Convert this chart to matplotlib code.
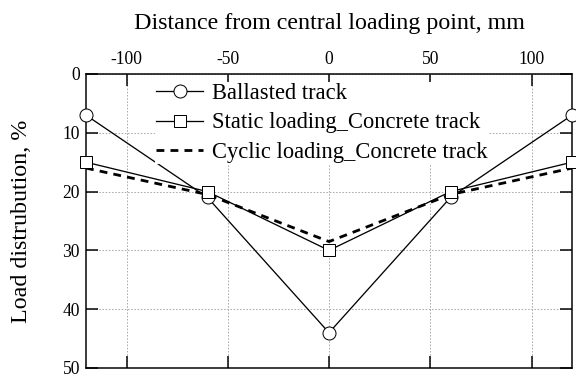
import matplotlib
matplotlib.use("Agg")
import matplotlib.pyplot as plt

plt.rcParams.update({
    "font.family": ["Liberation Serif", "DejaVu Serif"],
    "axes.unicode_minus": False,
})

# load share under each measuring point
distance = [-120, -60, 0, 60, 120]
ballasted = [7, 21, 44, 21, 7]
static_concrete = [15, 20, 30, 20, 15]
cyclic_concrete = [16, 20.5, 28.5, 20.5, 16]

x_ticks = [-100, -50, 0, 50, 100]
y_ticks = [0, 10, 20, 30, 40, 50]

fig = plt.figure(figsize=(8, 5.25), dpi=72)
ax = fig.add_axes([86 / 576, 10 / 378, 486 / 576, 294 / 378])

ax.plot(distance, ballasted, color="black", lw=1.3, marker="o", ms=13,
        mfc="white", mec="black", mew=1.0, label="Ballasted track", clip_on=False, zorder=3)
ax.plot(distance, static_concrete, color="black", lw=1.3, marker="s", ms=12,
        mfc="white", mec="black", mew=1.0, label="Static loading_Concrete track", clip_on=False, zorder=3)
ax.plot(distance, cyclic_concrete, color="black", lw=2.8, ls=(0, (2.8, 2.2)),
        label="Cyclic loading_Concrete track", zorder=2)

ax.set_xlim(-120, 120)
ax.set_ylim(50, 0)
ax.set_xticks(x_ticks)
ax.set_yticks(y_ticks)
ax.xaxis.set_ticks_position("both")
ax.yaxis.set_ticks_position("both")
ax.xaxis.set_label_position("top")
ax.tick_params(axis="x", labeltop=True, labelbottom=False)
ax.tick_params(direction="in", length=12, width=1.5, labelsize=17.5, pad=6)
ax.grid(True, ls=(0, (2, 2)), color="#999999", lw=0.8)
for s in ax.spines.values():
    s.set_linewidth(1.5)

ax.set_xlabel("Distance from central loading point, mm", fontsize=24, labelpad=22)
ax.set_ylabel("Load distrubution, %", fontsize=24, labelpad=30)

leg = ax.legend(loc="upper left", bbox_to_anchor=(0.142, 0.972), fontsize=22.5,
                frameon=True, fancybox=False, framealpha=1, edgecolor="none",
                handlelength=2.1, handletextpad=0.4, labelspacing=0.36,
                borderpad=0.05, borderaxespad=0)
leg.set_zorder(4)

fig.savefig("out.png", dpi=72, facecolor="white")
